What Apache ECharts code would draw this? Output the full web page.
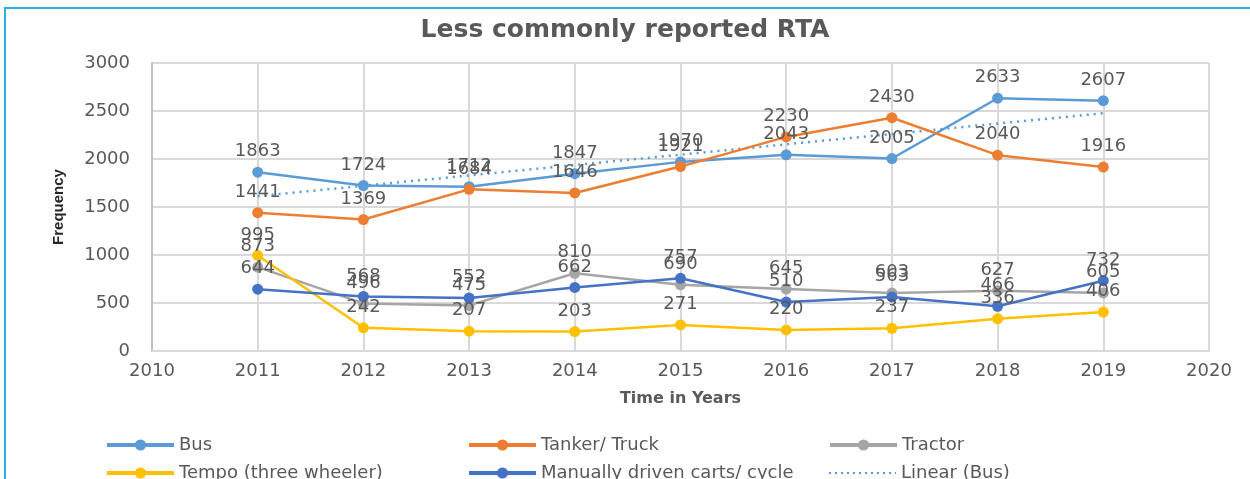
<!DOCTYPE html>
<html>
<head>
<meta charset="utf-8">
<script src="https://cdn.jsdelivr.net/npm/echarts@6/dist/echarts.min.js"></script>
<style>
  html, body { margin: 0; padding: 0; background: #fff; }
  #chart { width: 1250px; height: 479px; }
</style>
</head>
<body>
<div id="chart"></div>
<script>
// data
const years = [2011, 2012, 2013, 2014, 2015, 2016, 2017, 2018, 2019];
const bus = [1863, 1724, 1712, 1847, 1970, 2043, 2005, 2633, 2607];
const tanker = [1441, 1369, 1684, 1646, 1921, 2230, 2430, 2040, 1916];
const tractor = [873, 496, 475, 810, 690, 645, 603, 627, 605];
const tempo = [995, 242, 207, 203, 271, 220, 237, 336, 406];
const manual = [644, 568, 552, 662, 757, 510, 563, 466, 732];
// dotted trend of Bus, ends
const trendYears = [2011, 2019];
const busTrend = [1613, 2477];

const grey = '#595959';
const numFont = 'DejaVu Sans';

const chart = echarts.init(document.getElementById('chart'));

const pairs = (xs, ys) => xs.map((x, i) => [x, ys[i]]);

const lineSeries = (name, values, color) => ({
  name,
  type: 'line',
  data: pairs(years, values),
  symbol: 'circle',
  symbolSize: 11,
  itemStyle: { color },
  lineStyle: { color, width: 2.5 },
  label: {
    show: true,
    position: 'top',
    distance: 6,
    color: grey,
    fontFamily: numFont,
    fontSize: 18,
  },
});

// legend laid out in fixed columns like the original
const legendItems = [
  ['Bus', 100, 431],
  ['Tanker/ Truck', 462, 431],
  ['Tractor', 823, 431],
  ['Tempo (three wheeler)', 100, 459],
  ['Manually driven carts/ cycle', 462, 459],
  ['Linear (Bus)', 823, 459],
];

const legends = legendItems.map(([name, left, top]) => {
  const trend = name === 'Linear (Bus)';
  return {
    data: [trend ? { name, itemStyle: { opacity: 0 } } : name],
    left,
    top,
    itemWidth: 67,
    itemHeight: 14,
    lineStyle: trend ? { width: 2, type: [2, 4] } : { width: 4 },
    textStyle: { color: grey, fontFamily: numFont, fontSize: 18 },
  };
});

const option = {
  animation: false,
  title: {
    text: 'Less commonly reported RTA',
    left: 'center',
    top: 13,
    textStyle: { color: grey, fontFamily: numFont, fontSize: 25, fontWeight: 'bold' },
  },
  graphic: [
    {
      type: 'rect',
      shape: { x: 5, y: 8, width: 1400, height: 600 },
      style: { fill: 'none', stroke: '#2BB0E6', lineWidth: 2 },
    },
  ],
  legend: legends,
  grid: { left: 152, right: 41, top: 63, bottom: 128 },
  xAxis: {
    type: 'value',
    min: 2010,
    max: 2020,
    interval: 1,
    name: 'Time in Years',
    nameLocation: 'middle',
    nameGap: 40,
    nameTextStyle: { color: grey, fontFamily: numFont, fontSize: 16, fontWeight: 'bold' },
    axisLine: { show: true, lineStyle: { color: '#D9D9D9', width: 2 } },
    axisTick: { show: false },
    axisLabel: { color: grey, fontFamily: numFont, fontSize: 18, margin: 11, formatter: (v) => String(v) },
    splitLine: { show: true, lineStyle: { color: '#D9D9D9', width: 2 } },
  },
  yAxis: {
    type: 'value',
    min: 0,
    max: 3000,
    interval: 500,
    name: 'Frequency',
    nameLocation: 'middle',
    nameRotate: 90,
    nameGap: 86,
    nameTextStyle: { color: '#262626', fontFamily: 'Liberation Sans', fontSize: 15, fontWeight: 'bold' },
    axisLine: { show: true, lineStyle: { color: '#BFBFBF', width: 2 } },
    axisTick: { show: false },
    axisLabel: { color: grey, fontFamily: numFont, fontSize: 18, margin: 22, formatter: (v) => String(v) },
    splitLine: { show: true, lineStyle: { color: '#D9D9D9', width: 2 } },
  },
  series: [
    lineSeries('Bus', bus, '#5B9BD5'),
    lineSeries('Tanker/ Truck', tanker, '#ED7D31'),
    lineSeries('Tractor', tractor, '#A5A5A5'),
    lineSeries('Tempo (three wheeler)', tempo, '#FFC000'),
    lineSeries('Manually driven carts/ cycle', manual, '#4472C4'),
    {
      name: 'Linear (Bus)',
      type: 'line',
      data: pairs(trendYears, busTrend),
      symbol: 'none',
      itemStyle: { color: '#5B9BD5' },
      lineStyle: { color: '#5B9BD5', width: 2.5, type: [2, 5] },
      z: 1,
    },
  ],
};

chart.setOption(option);
</script>
</body>
</html>
